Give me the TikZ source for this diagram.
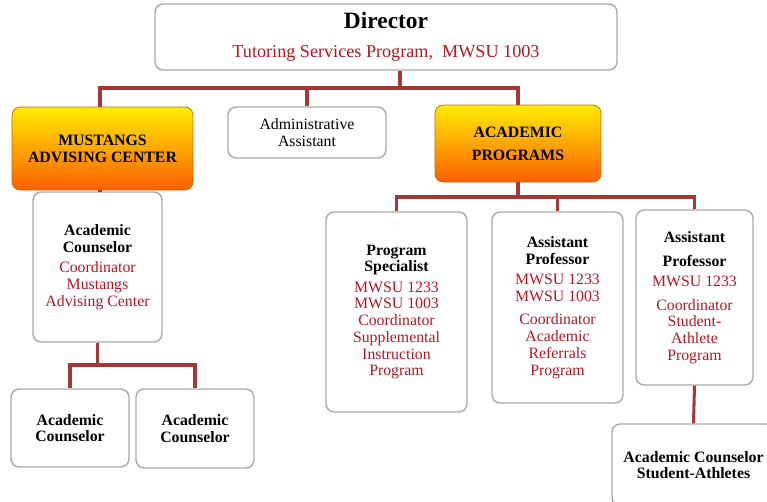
\documentclass[tikz,border=0pt]{standalone}
\usepackage{fontspec}
\setmainfont{Liberation Serif}
\usepackage{xcolor}
\usetikzlibrary{calc}

\definecolor{linkred}{RGB}{165,55,55}
\definecolor{textred}{RGB}{178,24,36}
\definecolor{boxgray}{RGB}{170,170,170}

\tikzset{
  box/.style={draw=boxgray, line width=1.2pt, rounded corners=7pt, fill=white,
    align=center, inner sep=0pt, font=\fontsize{13.5}{14.3}\selectfont},
  headbox/.style={box, draw=orange!80!black, line width=0.6pt,
    top color={rgb,255:red,255;green,236;blue,0}, bottom color={rgb,255:red,250;green,95;blue,0},
    font=\fontsize{13.5}{14.5}\selectfont\bfseries},
  link/.style={draw=linkred, line width=2.6pt}
}
\newcommand{\rd}[1]{\textcolor{textred}{#1}}

\begin{document}
\begin{tikzpicture}[x=0.03cm,y=-0.03cm]
\useasboundingbox (0,0) rectangle (767,501);

% Define the top of the chart
\node[box, minimum width=462*0.03cm, minimum height=66*0.03cm] (dir) at (386,37)
  {{\fontsize{20}{22}\selectfont\bfseries Director}\\[11pt]
   {\fontsize{15.5}{16}\selectfont\rd{Tutoring Services Program,\ \ MWSU 1003}}};

% Define the second row
\node[headbox, minimum width=181*0.03cm, minimum height=83*0.03cm] (mac) at (102.5,148.5)
  {MUSTANGS\\ADVISING CENTER};
\node[box, minimum width=158*0.03cm, minimum height=51*0.03cm] (adm) at (307,132.5)
  {Administrative\\Assistant};
\node[headbox, minimum width=166*0.03cm, minimum height=77*0.03cm,
  font=\fontsize{13.5}{19.5}\selectfont\bfseries] (acp) at (518,143.5)
  {ACADEMIC\\PROGRAMS};

% Define the left branch
\node[box, minimum width=129*0.03cm, minimum height=150*0.03cm] (acl) at (97.5,267)
  {\textbf{Academic}\\\textbf{Counselor}\\[3pt]
   \rd{Coordinator}\\\rd{Mustangs}\\\rd{Advising Center}};
\node[box, minimum width=118*0.03cm, minimum height=78*0.03cm] (ac1) at (70,428)
  {\textbf{Academic}\\\textbf{Counselor}};
\node[box, minimum width=118*0.03cm, minimum height=79*0.03cm] (ac2) at (195,428.5)
  {\textbf{Academic}\\\textbf{Counselor}};

% Define the right branch
\node[box, minimum width=141*0.03cm, minimum height=200*0.03cm] (psp) at (396.5,312)
  {\textbf{Program}\\\textbf{Specialist}\\[3pt]
   \rd{MWSU 1233}\\\rd{MWSU 1003}\\\rd{Coordinator}\\\rd{Supplemental}\\\rd{Instruction}\\\rd{Program}};
\node[box, minimum width=131*0.03cm, minimum height=191*0.03cm] (ap1) at (557.5,307.5)
  {\textbf{Assistant}\\\textbf{Professor}\\[3pt]
   \rd{MWSU 1233}\\\rd{MWSU 1003}\\[6pt]\rd{Coordinator}\\\rd{Academic}\\\rd{Referrals}\\\rd{Program}};
\node[box, minimum width=117*0.03cm, minimum height=175*0.03cm] (ap2) at (694.5,297.5)
  {\textbf{Assistant}\\[6pt]\textbf{Professor}\\[3pt]
   \rd{MWSU 1233}\\[6pt]\rd{Coordinator}\\\rd{Student-}\\\rd{Athlete}\\\rd{Program}};
\node[box, minimum width=163*0.03cm, minimum height=82*0.03cm] (acs) at (693.5,465)
  {\textbf{Academic Counselor}\\\textbf{Student-Athletes}};

% Draw connecting lines
\coordinate (bus1) at (400,88);
\coordinate (bus2) at (518,197);
\coordinate (bus3) at (97.5,365);

\begin{scope}[on background layer/.try]
\draw[link] (dir.south -| bus1) -- (bus1);
\draw[link] (bus1) -| (100,107);
\draw[link] (bus1) -| (adm.north);
\draw[link] (bus1) -| (acp.north);
\draw[link] (100,190) -- (100,192);

\draw[link] (acl.south) -- (bus3);
\draw[link] (bus3) -| (ac1.north);
\draw[link] (bus3) -| (ac2.north);

\draw[link] (acp.south) -- (bus2);
\draw[link] (bus2) -| (psp.north);
\draw[link] (bus2) -| (ap1.north);
\draw[link] (bus2) -| (ap2.north);
\draw[link] (ap2.south) -- (acs.north);
\end{scope}
\end{tikzpicture}
\end{document}
